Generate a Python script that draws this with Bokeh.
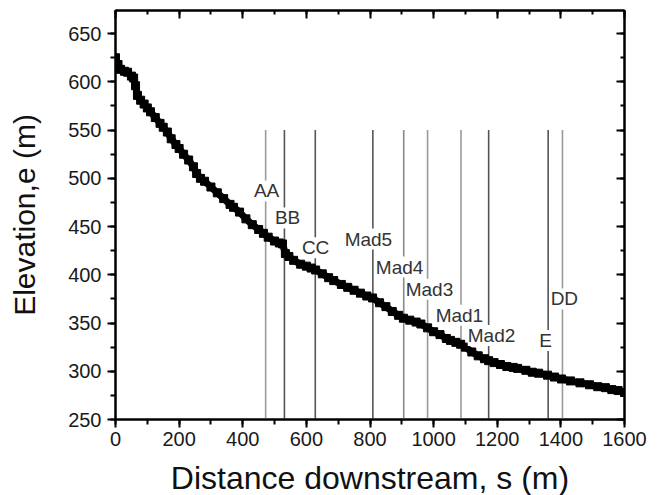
from bokeh.plotting import figure
from bokeh.models import Label, LinearAxis, Range1d, FixedTicker
from bokeh.embed import file_html
from bokeh.resources import INLINE

# ---- data ----
distance = [0, 8, 16, 28, 38, 50, 57, 63, 69, 79, 90, 100, 110, 125, 140, 150, 163, 175,
            190, 200, 214, 230, 245, 255, 267, 280, 300, 320, 340, 360, 371, 390, 410,
            430, 450, 465, 480, 500, 515, 525, 534, 545, 560, 582, 600, 615, 629, 650,
            670, 686, 710, 730, 750, 770, 790, 808, 830, 850, 870, 890, 905, 925, 945,
            960, 981, 1000, 1020, 1040, 1053, 1070, 1085, 1100, 1120, 1140, 1160, 1173,
            1190, 1210, 1230, 1250, 1264, 1290, 1310, 1330, 1358, 1380, 1402, 1430, 1460,
            1490, 1516, 1540, 1560, 1580, 1600]
elevation = [625, 618, 613, 611, 610, 606, 604, 596, 586, 581, 577, 573, 569, 563, 557, 553,
             548, 541, 535, 531, 525, 519, 512, 505, 500, 497, 491, 485, 479, 473, 470, 465,
             458, 452, 447, 443, 439, 435, 433, 432, 422, 419, 415, 411, 409, 407, 405, 401,
             397, 394, 390, 387, 384, 381, 378, 376, 371, 367, 362, 358, 355, 353, 351, 349,
             345, 341, 338, 334, 332, 330, 328, 325, 320, 316, 313, 311, 309, 307, 305, 304,
             303, 301, 299, 298, 296, 294, 292, 290, 288, 286, 284, 283, 281, 280, 278]

section_names = ["AA", "BB", "CC", "Mad5", "Mad4", "Mad3", "Mad1", "Mad2", "E", "DD"]
section_s = [472, 531, 628, 809, 906, 981, 1086, 1173, 1360, 1405]
section_line_top = 550
label_s = [475, 541, 629, 795, 893, 987, 1081, 1182, 1352, 1411]
label_e = [487, 459, 428, 437, 408, 385, 358, 337, 332, 375]

x_ticks = [0, 200, 400, 600, 800, 1000, 1200, 1400, 1600]
y_ticks = [250, 300, 350, 400, 450, 500, 550, 600, 650]

x_title = "Distance downstream, s (m)"
y_title = "Elevation,e (m)"

# ---- styles ----
line_colors = ["#9a9a9a", "#555555", "#555555", "#555555", "#8a8a8a",
               "#9a9a9a", "#9a9a9a", "#555555", "#555555", "#9a9a9a"]
FONT = "Liberation Sans"

X0, X1 = 0, 1600
Y0, Y1 = 250, 674
W, H = 665, 495
FL, FT, FW, FH = 115, 10, 509, 409

p = figure(width=W, height=H, frame_width=FW, frame_height=FH, title=None,
           x_range=Range1d(X0, X1), y_range=Range1d(Y0, Y1),
           output_backend="svg", toolbar_location=None,
           min_border_left=FL, min_border_right=W - FL - FW,
           min_border_top=FT, min_border_bottom=H - FT - FH)
p.grid.visible = False
p.outline_line_color = "black"
p.outline_line_width = 2
p.background_fill_color = "white"
p.border_fill_color = "white"

# vertical section lines
p.segment(x0=section_s, y0=[Y0] * len(section_s), x1=section_s,
          y1=[section_line_top] * len(section_s), line_color=line_colors, line_width=1.6)

for name, sx, ey in zip(section_names, label_s, label_e):
    p.add_layout(Label(x=sx, y=ey, text=name, text_align="center", text_baseline="middle",
                       text_font=FONT, text_font_size="19px", text_color="#333333",
                       background_fill_color="white", background_fill_alpha=1.0))

# profile
p.line(distance, elevation, line_color="black", line_width=7)
p.scatter(distance, elevation, marker="square", size=8, fill_color="black", line_color="black")


def style_axis(ax, inside, show_labels, ticks):
    ax.axis_line_width = 2
    ax.axis_line_color = "black"
    ax.major_tick_line_width = 2
    ax.minor_tick_line_width = 2
    ax.major_tick_line_color = "black"
    ax.minor_tick_line_color = "black"
    if inside:
        ax.major_tick_in, ax.major_tick_out = 8, 0
        ax.minor_tick_in, ax.minor_tick_out = 4, 0
    else:
        ax.major_tick_in, ax.major_tick_out = 0, 8
        ax.minor_tick_in, ax.minor_tick_out = 0, 5
    if show_labels:
        ax.major_label_text_font = FONT
        ax.major_label_text_font_size = "20px"
        ax.major_label_text_color = "#1a1a1a"
    else:
        ax.major_label_overrides = {t: "" for t in ticks}
        ax.major_label_text_font_size = "1px"
        ax.major_label_standoff = 0


p.xaxis.ticker = FixedTicker(ticks=x_ticks, minor_ticks=list(range(0, 1601, 100)))
p.yaxis.ticker = FixedTicker(ticks=y_ticks, minor_ticks=list(range(250, 676, 25)))
style_axis(p.xaxis[0], False, True, x_ticks)
style_axis(p.yaxis[0], False, True, y_ticks)
p.xaxis.major_label_standoff = 4
p.yaxis.major_label_standoff = 6

p.yaxis.axis_label = y_title
p.yaxis.axis_label_text_font = FONT
p.yaxis.axis_label_text_font_size = "30px"
p.yaxis.axis_label_text_font_style = "normal"
p.yaxis.axis_label_text_color = "#111111"
p.yaxis.axis_label_standoff = 24

p.xaxis.axis_label = x_title
p.xaxis.axis_label_text_font = FONT
p.xaxis.axis_label_text_font_size = "32px"
p.xaxis.axis_label_text_font_style = "normal"
p.xaxis.axis_label_text_color = "#111111"
p.xaxis.axis_label_standoff = 11

top = LinearAxis(ticker=FixedTicker(ticks=x_ticks, minor_ticks=list(range(0, 1601, 100))))
style_axis(top, True, False, x_ticks)
p.add_layout(top, "above")
right = LinearAxis(ticker=FixedTicker(ticks=y_ticks, minor_ticks=list(range(250, 676, 25))))
style_axis(right, True, False, y_ticks)
p.add_layout(right, "right")

open("out.html", "w").write(file_html(p, INLINE))
